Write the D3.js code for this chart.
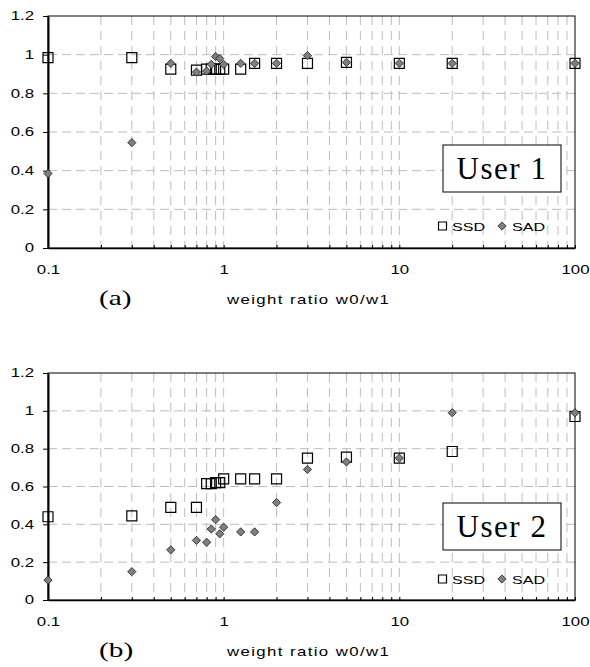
<!DOCTYPE html>
<html>
<head>
<meta charset="utf-8">
<script src="https://cdn.jsdelivr.net/npm/d3@7"></script>
<style>
    body { margin: 0; background: #fff; }
</style>
</head>
<body>
<svg id="chart" width="590" height="667" font-family='"Liberation Sans", Arial, sans-serif'></svg>
<script>
// weight ratio w0/w1 (shared by both users)
const weightRatios = [0.1, 0.3, 0.5, 0.7, 0.8, 0.85, 0.9, 0.95, 1, 1.25, 1.5, 2, 3, 5, 10, 20, 100];

// User 1
const user1SSD = [0.985, 0.985, 0.925, 0.92, 0.925, 0.925, 0.925, 0.925, 0.925, 0.925, 0.955, 0.955, 0.955, 0.96, 0.955, 0.955, 0.955];
const user1SAD = [0.385, 0.545, 0.955, 0.91, 0.915, 0.95, 0.99, 0.98, 0.95, 0.955, 0.955, 0.955, 0.995, 0.96, 0.955, 0.955, 0.955];

// User 2
const user2SSD = [0.44, 0.445, 0.49, 0.49, 0.615, 0.615, 0.62, 0.62, 0.64, 0.64, 0.64, 0.64, 0.75, 0.755, 0.75, 0.785, 0.97];
const user2SAD = [0.105, 0.15, 0.265, 0.315, 0.305, 0.375, 0.425, 0.35, 0.385, 0.36, 0.36, 0.515, 0.69, 0.73, 0.75, 0.99, 0.99];

const yTicks = [0, 0.2, 0.4, 0.6, 0.8, 1, 1.2];
const xTicks = [0.1, 1, 10, 100];
const legendLabels = ['SSD', 'SAD'];
const xTitle = 'weight ratio w0/w1';

const SANS = '"Liberation Sans", Arial, sans-serif';
const SERIF = '"Liberation Serif", "Times New Roman", serif';
const STRETCH = 1.4; // the original text is drawn wide

const svg = d3.select('#chart');

const squareSym = d3.symbol().type(d3.symbolSquare).size(100);
const diamondSym = d3.symbol().type(d3.symbolSquare).size(34);

// place a horizontally stretched text
function wideText(g, x, y, str, size, family) {
    return g.append('text')
        .attr('transform', `translate(${x},${y}) scale(${STRETCH},1)`)
        .attr('font-family', family || SANS)
        .attr('font-size', size)
        .text(str);
}

function drawPanel(p) {
    const x = d3.scaleLog().domain([0.1, 100]).range([p.left, p.right]);
    const y = d3.scaleLinear().domain([0, 1.2]).range([p.bottom, p.top]);
    const g = svg.append('g');
    const allTicks = x.ticks();

    // grid
    g.append('g')
        .selectAll('line')
        .data(allTicks.filter(d => d > 0.1 && d < 100))
        .enter()
        .append('line')
        .attr('x1', d => x(d)).attr('x2', d => x(d))
        .attr('y1', p.top).attr('y2', p.bottom)
        .attr('stroke', '#bdbdbd')
        .attr('stroke-dasharray', '9,6');

    g.append('g')
        .selectAll('line')
        .data(yTicks.filter(d => d > 0 && d < 1.2))
        .enter()
        .append('line')
        .attr('x1', p.left).attr('x2', p.right)
        .attr('y1', d => y(d)).attr('y2', d => y(d))
        .attr('stroke', '#bdbdbd')
        .attr('stroke-dasharray', '9,5');

    // frame
    g.append('rect')
        .attr('x', p.left).attr('y', p.top)
        .attr('width', p.right - p.left).attr('height', p.bottom - p.top)
        .attr('fill', 'none')
        .attr('stroke', '#000');

    // y axis
    const yAxis = g.append('g')
        .attr('transform', `translate(${p.left},0)`)
        .call(d3.axisLeft(y).tickValues(yTicks).tickSize(5).tickSizeOuter(0).tickFormat(d3.format('')));
    yAxis.select('.domain').attr('stroke-width', 2);
    yAxis.selectAll('text')
        .attr('font-size', 12).attr('font-family', SANS)
        .attr('x', -10)
        .attr('transform', `scale(${STRETCH},1)`);

    // x axis: minor ticks inside, labels at decades
    g.append('g')
        .attr('transform', `translate(0,${p.bottom})`)
        .call(d3.axisTop(x).tickValues(allTicks).tickSize(3).tickSizeOuter(0).tickFormat(''))
        .select('.domain').attr('stroke-width', 1.5);

    const xAxis = g.append('g')
        .attr('transform', `translate(0,${p.bottom})`)
        .call(d3.axisBottom(x).tickValues(xTicks).tickSize(0).tickPadding(17).tickFormat(d => String(d)));
    xAxis.select('.domain').remove();
    xAxis.selectAll('text')
        .attr('font-size', 12).attr('font-family', SANS)
        .attr('transform', `scale(${STRETCH},1)`);

    // SSD squares
    g.append('g')
        .selectAll('path')
        .data(weightRatios)
        .enter()
        .append('path')
        .attr('d', squareSym)
        .attr('transform', (d, i) => `translate(${x(d)},${y(p.ssd[i])})`)
        .attr('fill', 'none')
        .attr('stroke', '#000')
        .attr('stroke-width', 1.2);

    // SAD diamonds
    g.append('g')
        .selectAll('path')
        .data(weightRatios)
        .enter()
        .append('path')
        .attr('d', diamondSym)
        .attr('transform', (d, i) => `translate(${x(d)},${y(p.sad[i])}) rotate(45)`)
        .attr('fill', '#7f7f7f')
        .attr('stroke', '#222')
        .attr('stroke-width', 0.8);

    // user label box
    g.append('rect')
        .attr('x', 443).attr('y', p.top + p.boxOffset)
        .attr('width', 118).attr('height', 47)
        .attr('fill', '#fff')
        .attr('stroke', '#000');
    g.append('text')
        .attr('x', 502).attr('y', p.top + p.boxOffset + 34)
        .attr('text-anchor', 'middle')
        .attr('font-family', SERIF)
        .attr('font-size', 31)
        .attr('letter-spacing', 1.5)
        .text(p.user);

    // legend
    const ly = p.top + p.legendOffset;
    g.append('path')
        .attr('d', d3.symbol().type(d3.symbolSquare).size(64))
        .attr('transform', `translate(442.5,${ly})`)
        .attr('fill', 'none').attr('stroke', '#000').attr('stroke-width', 1.2);
    wideText(g, 452, ly + 4.5, legendLabels[0], 11.5);
    g.append('path')
        .attr('d', diamondSym)
        .attr('transform', `translate(502,${ly}) rotate(45)`)
        .attr('fill', '#7f7f7f').attr('stroke', '#222').attr('stroke-width', 0.8);
    wideText(g, 512, ly + 4.5, legendLabels[1], 11.5);

    // panel tag and axis title
    wideText(g, 99, p.bottom + 57, p.tag, 21, SERIF);
    wideText(g, 227, p.bottom + 56, xTitle, 12).attr('letter-spacing', 1);
}

drawPanel({ top: 16, bottom: 248, left: 48, right: 575, ssd: user1SSD, sad: user1SAD,
    user: 'User 1', tag: '(a)', boxOffset: 129, legendOffset: 210 });
drawPanel({ top: 373, bottom: 600, left: 48, right: 575, ssd: user2SSD, sad: user2SAD,
    user: 'User 2', tag: '(b)', boxOffset: 130, legendOffset: 206 });
</script>
</body>
</html>
